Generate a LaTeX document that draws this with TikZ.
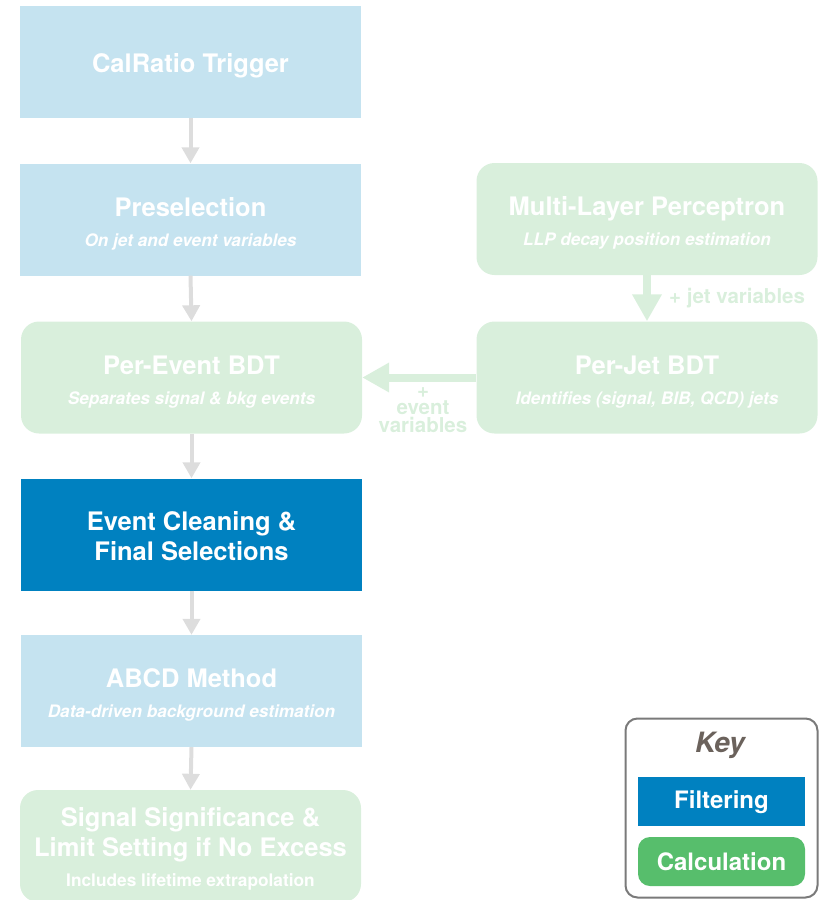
\documentclass[tikz,border=0pt]{standalone}
\usepackage{fontspec}
\setmainfont{TeX Gyre Heros}
\usetikzlibrary{arrows.meta}
\definecolor{lblue}{HTML}{C5E3F0}
\definecolor{lgreen}{HTML}{D9EFDC}
\definecolor{fblue}{HTML}{0081C0}
\definecolor{cgreen}{HTML}{57BE6C}
\definecolor{agray}{HTML}{DDDDDD}
\definecolor{keytxt}{HTML}{6B625C}
\definecolor{keyborder}{HTML}{7A7A7A}
\newcommand\ttlf{\fontsize{25.5}{30}\selectfont\bfseries}
\newcommand\subtxt{\fontsize{17.2}{33.5}\selectfont\bfseries\itshape}
\newcommand\subup{\fontsize{17.3}{31}\selectfont\bfseries}
\newcommand\dnstrut{\rule{0pt}{27pt}}
\tikzset{
  boxbase/.style={minimum width=341pt, minimum height=112pt, inner sep=0pt, align=center, text=white, font=\ttlf},
  bluebox/.style={boxbase, fill=lblue},
  greenbox/.style={boxbase, fill=lgreen, rounded corners=18pt},
  darkbox/.style={boxbase, fill=fblue},
  grayarrow/.style={draw=agray, line width=4pt, -{Triangle[width=17pt,length=16pt]}},
  greenarrow/.style={draw=lgreen, line width=8pt, -{Triangle[width=28pt,length=27pt]}},
  greenlabel/.style={text=lgreen, font=\fontsize{20.5}{17.5}\selectfont\bfseries, align=center, inner sep=0pt},
}
\begin{document}
\begin{tikzpicture}[x=1pt,y=-1pt]
\useasboundingbox (0,0) rectangle (823,900);
% left column
\node[bluebox] (trig) at (190.5,62) {\dnstrut CalRatio Trigger};
\node[bluebox] (presel) at (190.5,219.5) {\dnstrut Preselection\\{\subtxt On jet and event variables}};
\node[greenbox] (pevt) at (191.5,377.5) {\dnstrut Per-Event BDT\\{\subtxt Separates signal \& bkg events}};
\node[darkbox] (clean) at (191.5,534.5) {\rule{0pt}{23pt}Event Cleaning \&\\Final Selections};
\node[bluebox] (abcd) at (191.5,691) {\dnstrut ABCD Method\\{\subtxt Data-driven background estimation}};
\node[greenbox] (sig) at (190.5,846) {\rule{0pt}{25pt}Signal Significance \&\\Limit Setting if No Excess\\{\subup Includes lifetime extrapolation}};
% right column
\node[greenbox] (mlp) at (647,219) {\dnstrut Multi-Layer Perceptron\\{\subtxt LLP decay position estimation}};
\node[greenbox] (pjet) at (647,377.5) {\dnstrut Per-Jet BDT\\{\subtxt Identifies (signal, BIB, QCD) jets}};
% arrows
\draw[grayarrow] (trig.south) -- (presel.north);
\draw[grayarrow] (presel.south) -- (pevt.north);
\draw[grayarrow] (pevt.south) -- (clean.north);
\draw[grayarrow] (clean.south) -- (abcd.north);
\draw[grayarrow] (abcd.south) -- (sig.north);
\draw[greenarrow] (mlp.south) -- (pjet.north);
\draw[greenarrow] (pjet.west) -- (pevt.east);
\node[greenlabel, anchor=west] (jetvar) at (669,298) {+ jet variables};
\node[greenlabel] (evtvar) at (423,410) {+\\event\\variables};
% key
\node[draw=keyborder, line width=2pt, rounded corners=12pt, minimum width=192pt, minimum height=179pt, inner sep=0pt] (keybox) at (721.5,808) {};
\node[text=keytxt, font=\fontsize{28}{30}\selectfont\bfseries\itshape, inner sep=0pt] (keytitle) at (720,745) {Key};
\node[fill=fblue, text=white, font=\fontsize{24}{28}\selectfont\bfseries, minimum width=167pt, minimum height=49pt, inner sep=0pt] (filt) at (721.5,801.5) {\rule{0pt}{20pt}Filtering};
\node[fill=cgreen, text=white, font=\fontsize{24}{28}\selectfont\bfseries, rounded corners=12pt, minimum width=167pt, minimum height=49pt, inner sep=0pt] (calc) at (721.5,861.5) {Calculation};
\end{tikzpicture}
\end{document}
